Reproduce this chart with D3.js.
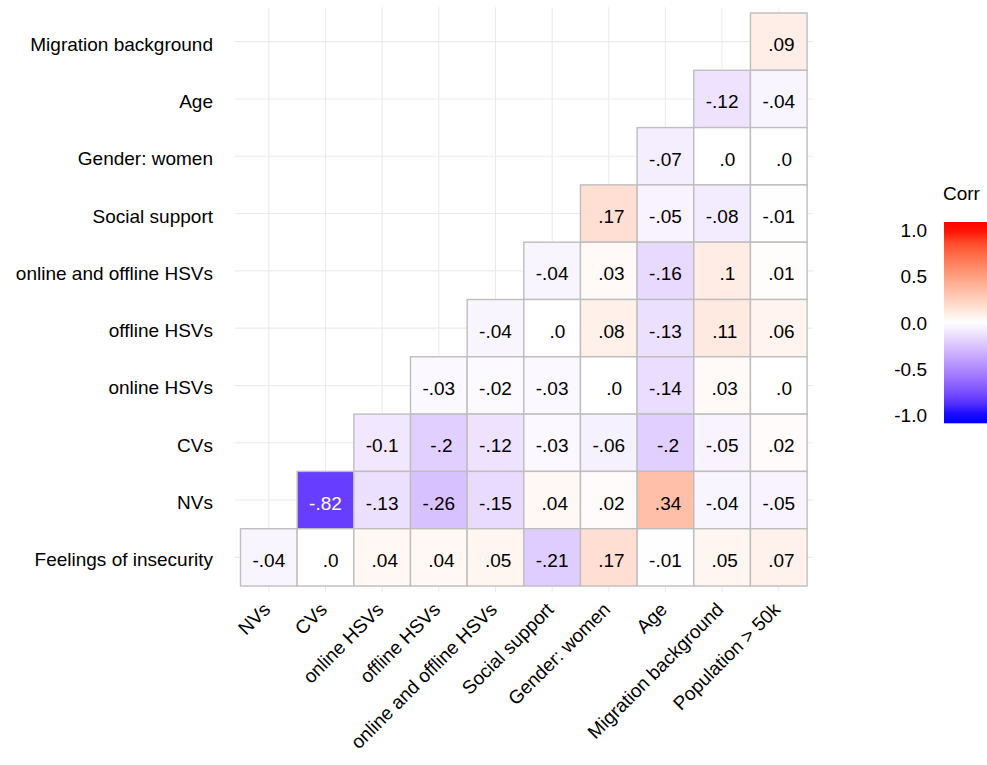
<!DOCTYPE html>
<html>
<head>
<meta charset="utf-8">
<script src="https://cdn.jsdelivr.net/npm/d3@7"></script>
<style>
  html, body { margin: 0; padding: 0; background: #fff; }
  svg { display: block; }
  text { font-family: "Liberation Sans", Arial, Helvetica, sans-serif; }
</style>
</head>
<body>
<svg id="chart" width="987" height="765"></svg>
<script>
// ---- data ----
const rowLabels = ["Migration background", "Age", "Gender: women", "Social support",
  "online and offline HSVs", "offline HSVs", "online HSVs", "CVs", "NVs", "Feelings of insecurity"];
const colLabels = ["NVs", "CVs", "online HSVs", "offline HSVs", "online and offline HSVs",
  "Social support", "Gender: women", "Age", "Migration background", "Population > 50k"];
// each row's values fill the right-most columns (lower triangle)
const cellLabels = [
  [".09"],
  ["-.12", "-.04"],
  ["-.07", ".0", ".0"],
  [".17", "-.05", "-.08", "-.01"],
  ["-.04", ".03", "-.16", ".1", ".01"],
  ["-.04", ".0", ".08", "-.13", ".11", ".06"],
  ["-.03", "-.02", "-.03", ".0", "-.14", ".03", ".0"],
  ["-0.1", "-.2", "-.12", "-.03", "-.06", "-.2", "-.05", ".02"],
  ["-.82", "-.13", "-.26", "-.15", ".04", ".02", ".34", "-.04", "-.05"],
  ["-.04", ".0", ".04", ".04", ".05", "-.21", ".17", "-.01", ".05", ".07"]
];
const legendTicks = [1.0, 0.5, 0.0, -0.5, -1.0];
const legendTitle = "Corr";

// ---- build cells ----
const cells = [];
cellLabels.forEach((vals, ri) => {
  const n = vals.length;
  vals.forEach((lab, k) => {
    cells.push({ row: rowLabels[ri], col: colLabels[colLabels.length - n + k], label: lab, value: +lab });
  });
});

const svg = d3.select("#chart");

const x = d3.scaleBand().domain(colLabels).range([240.5, 807.1]).padding(0);
const y = d3.scaleBand().domain(rowLabels).range([13, 586]).padding(0);
const color = d3.scaleLinear().domain([-1, 0, 1]).range(["blue", "white", "red"])
  .interpolate(d3.interpolateLab).clamp(true);

const bw = x.bandwidth(), bh = y.bandwidth();
const panel = { x0: x.range()[0] - 0.1 * bw, x1: x.range()[1] + 0.1 * bw,
                y0: y.range()[0] - 0.1 * bh, y1: y.range()[1] + 0.1 * bh };

// grid lines
const grid = svg.append("g");
grid.selectAll("line.v").data(colLabels).join("line")
  .attr("x1", d => x(d) + bw / 2).attr("x2", d => x(d) + bw / 2)
  .attr("y1", panel.y0).attr("y2", panel.y1)
  .attr("stroke", "#ebebeb").attr("stroke-width", 1.1);
grid.selectAll("line.h").data(rowLabels).join("line")
  .attr("y1", d => y(d) + bh / 2).attr("y2", d => y(d) + bh / 2)
  .attr("x1", panel.x0).attr("x2", panel.x1)
  .attr("stroke", "#ebebeb").attr("stroke-width", 1.1);

// tiles
svg.append("g").selectAll("rect").data(cells).join("rect")
  .attr("x", d => x(d.col)).attr("y", d => y(d.row))
  .attr("width", bw).attr("height", bh)
  .attr("fill", d => color(d.value))
  .attr("stroke", "#bebebe").attr("stroke-width", 1.4);

// tile labels (padded to a fixed width like the original)
svg.append("g").selectAll("text").data(cells).join("text")
  .attr("x", d => x(d.col) + bw / 2)
  .attr("y", d => y(d.row) + bh / 2 + 9.5)
  .attr("text-anchor", "middle")
  .style("white-space", "pre")
  .attr("font-size", 19)
  .attr("fill", d => Math.abs(d.value) > 0.5 ? "#ffffff" : "#000000")
  .text(d => d.label.padStart(4, " "));

// y axis labels
svg.append("g").selectAll("text").data(rowLabels).join("text")
  .attr("x", 213)
  .attr("y", d => y(d) + bh / 2 + 9)
  .attr("text-anchor", "end")
  .attr("font-size", 19)
  .attr("fill", "#000")
  .text(d => d);

// x axis labels (rotated 45)
svg.append("g").selectAll("text").data(colLabels).join("text")
  .attr("transform", d => `translate(${x(d) + bw / 2 - 7},601) rotate(-45)`)
  .attr("text-anchor", "end")
  .attr("dy", "0.72em")
  .attr("font-size", 19)
  .attr("fill", "#000")
  .text(d => d);

// ---- legend ----
const ly = d3.scaleLinear().domain([-1, 1]).range([415, 230.3]);
const defs = svg.append("defs");
const barTop = ly(1.09), barBot = ly(-1.09);
const grad = defs.append("linearGradient").attr("id", "corrGrad")
  .attr("x1", 0).attr("y1", 1).attr("x2", 0).attr("y2", 0);
d3.range(0, 1.0001, 0.05).forEach(t => {
  const v = -1.09 + t * 2.18;
  grad.append("stop").attr("offset", t).attr("stop-color", color(v));
});
svg.append("rect").attr("x", 944).attr("y", barTop)
  .attr("width", 46).attr("height", barBot - barTop)
  .attr("fill", "url(#corrGrad)");

svg.append("g").selectAll("text").data(legendTicks).join("text")
  .attr("x", 927).attr("y", d => ly(d) + 7)
  .attr("text-anchor", "end")
  .attr("font-size", 19)
  .attr("fill", "#000")
  .text(d => d3.format(".1f")(d).replace("−", "-"));

svg.append("text").attr("x", 943).attr("y", 200)
  .attr("font-size", 19).attr("fill", "#000").text(legendTitle);
</script>
</body>
</html>
